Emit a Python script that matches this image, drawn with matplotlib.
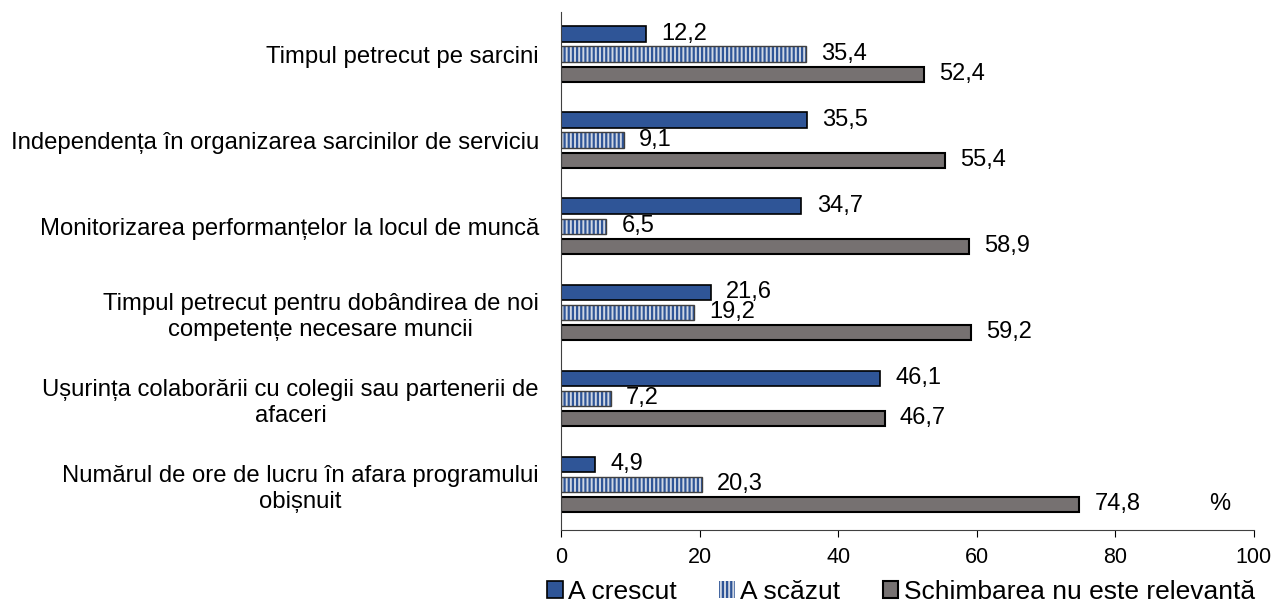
import matplotlib.pyplot as plt
import numpy as np

plt.rcParams['font.family'] = ['Liberation Sans', 'DejaVu Sans']
plt.rcParams['hatch.linewidth'] = 1.6

categories = [
    "Timpul petrecut pe sarcini",
    "Independența în organizarea sarcinilor de serviciu",
    "Monitorizarea performanțelor la locul de muncă",
    "Timpul petrecut pentru dobândirea de noi\ncompetențe necesare muncii",
    "Ușurința colaborării cu colegii sau partenerii de\nafaceri",
    "Numărul de ore de lucru în afara programului\nobișnuit",
]
series_names = ["A crescut", "A scăzut", "Schimbarea nu este relevantă"]
crescut = [12.2, 35.5, 34.7, 21.6, 46.1, 4.9]
scazut = [35.4, 9.1, 6.5, 19.2, 7.2, 20.3]
nerelevant = [52.4, 55.4, 58.9, 59.2, 46.7, 74.8]

blue = '#2F5597'
light = '#D0D7E3'
grey = '#767171'

fig = plt.figure(figsize=(12.73, 6.02), dpi=100)
ax = fig.add_axes([0.4407, 0.1196, 0.5443, 0.8604])

y = np.arange(len(categories))
h = 0.18
off = 0.233

b1 = ax.barh(y - off, crescut, height=h, color=blue, edgecolor='black', linewidth=1.2,
             label=series_names[0])
b2 = ax.barh(y, scazut, height=h, color=light, edgecolor=blue, linewidth=0, hatch='||||',
             label=series_names[1])
# outline for hatched bars
ax.barh(y, scazut, height=h, color='none', edgecolor='#404040', linewidth=1.0)
b3 = ax.barh(y + off, nerelevant, height=h, color=grey, edgecolor='black', linewidth=1.5,
             label=series_names[2])

for bars, vals in [(b1, crescut), (b2, scazut), (b3, nerelevant)]:
    for bar, v in zip(bars, vals):
        ax.annotate(f"{v:.1f}".replace('.', ','),
                    (bar.get_width(), bar.get_y() + bar.get_height() / 2),
                    xytext=(11, 0), textcoords='offset points',
                    ha='left', va='center', fontsize=17)

ax.set_xlim(0, 100)
ax.set_ylim(5.53, -0.49)
ax.set_xticks([0, 20, 40, 60, 80, 100])
ax.set_yticks(y)
ax.set_yticklabels(categories, fontsize=17.2, multialignment='center', linespacing=1.25)
ax.tick_params(axis='y', length=0, pad=16)
ax.tick_params(axis='x', labelsize=15.5, length=5, direction='out', pad=7)

ax.spines['top'].set_visible(False)
ax.spines['right'].set_visible(False)
ax.spines['left'].set_color('#404040')
ax.spines['bottom'].set_color('#404040')

ax.text(95, 5.233, "%", fontsize=17, ha='center', va='center')

ax.legend(loc='center', bbox_to_anchor=(0.5 * (548 + 1254) / 1273, 1 - 592 / 602),
          bbox_transform=fig.transFigure, ncol=3, frameon=False, fontsize=19,
          handlelength=0.6, handleheight=0.6, handletextpad=0.2, columnspacing=1.6,
          borderaxespad=0)

fig.savefig('out.png', dpi=100)
